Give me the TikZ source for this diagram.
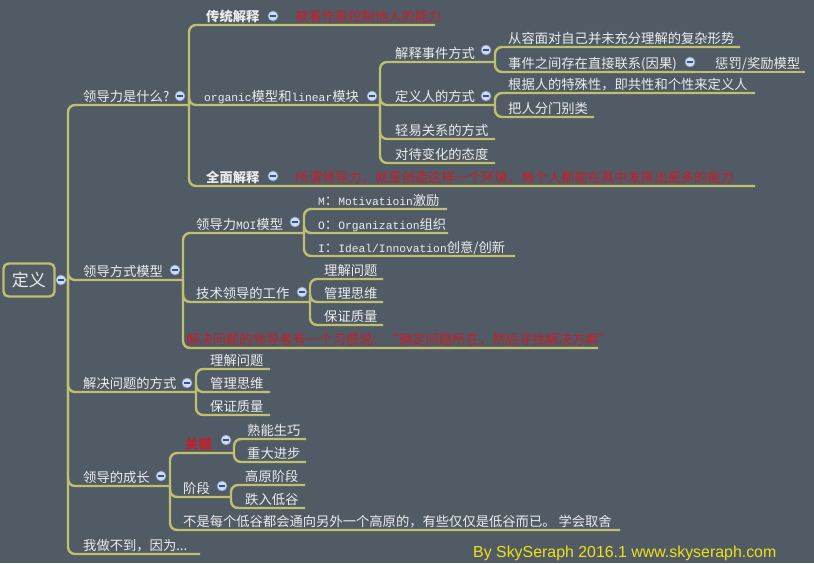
\documentclass[tikz,border=0pt]{standalone}
\usepackage{fontspec}
\setmainfont{Noto Sans CJK SC}
\newfontfamily\mono[Scale=0.85]{Liberation Mono}
\newfontfamily\footfont{Liberation Sans}
\definecolor{bg}{RGB}{80,91,101}
\definecolor{lineC}{RGB}{190,192,112}
\definecolor{txtC}{RGB}{236,236,236}
\definecolor{redC}{RGB}{200,30,44}
\definecolor{togF}{RGB}{208,220,240}
\definecolor{togD}{RGB}{130,146,180}
\definecolor{togM}{RGB}{50,80,150}
\definecolor{footC}{RGB}{240,226,20}
\newcommand\T[5][]{\node[txt,#1] (#2) at (#3,#4-4) {#5};}
\begin{document}
\begin{tikzpicture}[x=1pt,y=-1pt,
  ln/.style={draw=lineC, line width=2.4pt, rounded corners=7pt},
  txt/.style={text=txtC, font=\fontsize{13.3}{15}\selectfont, anchor=base west, inner sep=0pt},
  redt/.style={text=redC},
  bld/.style={font=\fontsize{13.3}{15}\selectfont\bfseries},
  rootbox/.style={draw=lineC, line width=2.4pt, rounded corners=5pt, minimum width=51pt, minimum height=33pt, inner sep=0pt, text=txtC, font=\fontsize{17}{19}\selectfont},
  tog/.style={circle, minimum size=10pt, inner sep=0pt, fill=togF, draw=togD, line width=0.6pt,
    path picture={\draw[togM, line width=1.2pt] ([xshift=-2.6pt]path picture bounding box.center) -- ([xshift=2.6pt]path picture bounding box.center);}},
  foot/.style={text=footC, font=\footfont\fontsize{15.9}{18}\selectfont, anchor=base west, inner sep=0pt}]
\path[fill=bg, use as bounding box] (0,0) rectangle (814,563);

% ---------- line end coordinates ----------
\coordinate (r0) at (68,280);
\coordinate (A) at (189,105);
\coordinate (B) at (183,280);
\coordinate (C) at (196,392);
\coordinate (D) at (170,486);
\coordinate (E) at (200,554);
\coordinate (A1) at (435,25);
\coordinate (A2) at (380,105);
\coordinate (A3) at (755,186);
\coordinate (a) at (495,62);
\coordinate (b) at (495,105);
\coordinate (c) at (495,139);
\coordinate (d) at (495,163);
\coordinate (a1) at (740,47);
\coordinate (a2) at (695,72);
\coordinate (a3) at (805,72);
\coordinate (b1) at (755,93);
\coordinate (b2) at (594,117);
\coordinate (B1) at (304,233);
\coordinate (B2) at (310,302);
\coordinate (B3) at (598,348);
\coordinate (m1) at (447,209);
\coordinate (m2) at (448,233);
\coordinate (m3) at (515,256);
\coordinate (t1) at (383,279);
\coordinate (t2) at (383,302);
\coordinate (t3) at (383,325);
\coordinate (c1) at (270,369);
\coordinate (c2) at (270,392);
\coordinate (c3) at (270,415);
\coordinate (D1) at (234,453);
\coordinate (D2) at (231,497);
\coordinate (D3) at (620,530);
\coordinate (e1) at (306,439);
\coordinate (e2) at (306,462);
\coordinate (f1) at (305,485);
\coordinate (f2) at (305,508);

% ---------- root and connectors ----------
\node[rootbox] (root) at (29,280) {定义};
\draw[ln] (root.east) -- (r0);
\foreach \n in {A,B,C,D,E} \draw[ln] (r0) |- (\n);
\foreach \n in {A1,A2,A3} \draw[ln] (A) |- (\n);
\foreach \n in {a,b,c,d} \draw[ln] (A2) |- (\n);
\foreach \n in {a1,a2} \draw[ln] (a) |- (\n);
\draw[ln] (a2) -- (a3);
\foreach \n in {b1,b2} \draw[ln] (b) |- (\n);
\foreach \n in {B1,B2,B3} \draw[ln] (B) |- (\n);
\foreach \n in {m1,m2,m3} \draw[ln] (B1) |- (\n);
\foreach \n in {t1,t2,t3} \draw[ln] (B2) |- (\n);
\foreach \n in {c1,c2,c3} \draw[ln] (C) |- (\n);
\foreach \n in {D1,D2,D3} \draw[ln] (D) |- (\n);
\foreach \n in {e1,e2} \draw[ln] (D1) |- (\n);
\foreach \n in {f1,f2} \draw[ln] (D2) |- (\n);

% ---------- texts ----------
\T{tA}{83}{105}{领导力是什么?}
\T{tB}{83}{280}{领导方式模型}
\T{tC}{83}{392}{解决问题的方式}
\T{tD}{83}{486}{领导的成长}
\T{tE}{83}{554}{我做不到，因为...}
\T[bld]{tA1}{206}{25}{传统解释}
\T[redt]{rA1}{295}{25}{被看作是控制他人的能力}
\T{tA2}{204}{105}{{\mono organic}模型和{\mono linear}模块}
\T[bld]{tA3}{206}{186}{全面解释}
\T[redt]{rA3}{295}{186}{所谓领导力，就是创造这样一个环境，每个人都能在其中发挥出更多的能力}
\T{ta}{395}{62}{解释事件方式}
\T{tb}{395}{105}{定义人的方式}
\T{tc}{395}{139}{轻易关系的方式}
\T{td}{395}{163}{对待变化的态度}
\T{ta1}{508}{47}{从容面对自己并未充分理解的复杂形势}
\T{ta2}{508}{72}{事件之间存在直接联系(因果)}
\T{ta3}{715}{72}{惩罚/奖励模型}
\T{tb1}{508}{93}{根据人的特殊性，即共性和个性来定义人}
\T{tb2}{508}{117}{把人分门别类}
\T{tB1}{196}{233}{领导力{\mono MOI}模型}
\T{tB2}{196}{302}{技术领导的工作}
\T[redt]{tB3}{186}{348}{解决问题的领导者有一个习惯说：“确定问题所在，然后寻找解决方案”}
\T{tm1}{318}{209}{{\mono M}：{\mono Motivatioin}激励}
\T{tm2}{318}{233}{{\mono O}：{\mono Organization}组织}
\T{tm3}{318}{256}{{\mono I}：{\mono Ideal/Innovation}创意/创新}
\T{tt1}{324}{279}{理解问题}
\T{tt2}{324}{302}{管理思维}
\T{tt3}{324}{325}{保证质量}
\T{tc1}{210}{369}{理解问题}
\T{tc2}{210}{392}{管理思维}
\T{tc3}{210}{415}{保证质量}
\T[bld,redt]{tD1}{185}{453}{关键}
\T{tD2}{183}{497}{阶段}
\T{tD3}{183}{530}{不是每个低谷都会通向另外一个高原的，有些仅仅是低谷而已。 学会取舍}
\T{te1}{247}{439}{熟能生巧}
\T{te2}{247}{462}{重大进步}
\T{tf1}{245}{485}{高原阶段}
\T{tf2}{245}{508}{跌入低谷}

% ---------- toggles ----------
\node[tog] (g0) at (61,280) {};
\node[tog] (gA) at (180,96) {};
\node[tog] (gB) at (175,270) {};
\node[tog] (gC) at (187,383) {};
\node[tog] (gD) at (161,476) {};
\node[tog] (gA1) at (273,16) {};
\node[tog] (gA2) at (372,96) {};
\node[tog] (gA3) at (273,176) {};
\node[tog] (ga) at (486,50) {};
\node[tog] (gb) at (486,96) {};
\node[tog] (ga2) at (690,62) {};
\node[tog] (gB1) at (295,222) {};
\node[tog] (gB2) at (302,292) {};
\node[tog] (gD1) at (226,440) {};
\node[tog] (gD2) at (222,486) {};

% ---------- footer ----------
\node[foot] (ft) at (473,557) {By SkySeraph 2016.1 www.skyseraph.com};
\end{tikzpicture}
\end{document}
